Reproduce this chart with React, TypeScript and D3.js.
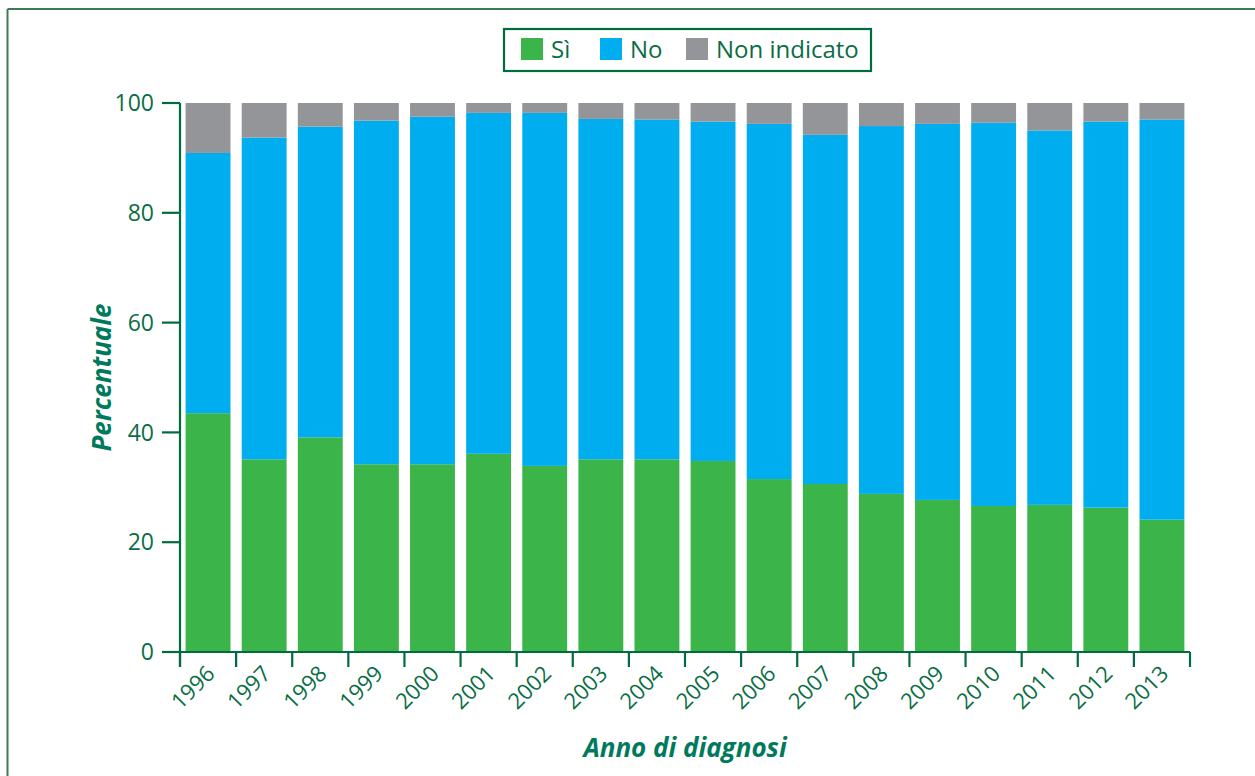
import React from "react";
import * as d3 from "d3";

const years = ["1996","1997","1998","1999","2000","2001","2002","2003","2004","2005","2006","2007","2008","2009","2010","2011","2012","2013"];
const si = [43.5, 35.1, 39.1, 34.2, 34.2, 36.1, 33.9, 35.1, 35.1, 34.8, 31.5, 30.6, 28.8, 27.7, 26.6, 26.8, 26.3, 24.1];
const no = [47.4, 58.6, 56.6, 62.6, 63.3, 62.1, 64.3, 62.0, 61.9, 61.8, 64.7, 63.6, 67.0, 68.5, 69.8, 68.2, 70.3, 72.9];
const nonIndicato = [9.1, 6.3, 4.3, 3.2, 2.5, 1.8, 1.8, 2.9, 3.0, 3.4, 3.8, 5.8, 4.2, 3.8, 3.6, 5.0, 3.4, 3.0];
const seriesKeys = ["Sì", "No", "Non indicato"];
const seriesColors = ["#3bb54a", "#00aeef", "#939598"];
const yTicks = [0, 20, 40, 60, 80, 100];

const W = 1255, H = 776;
const AXIS = "#006b3c";
const TEXT = "#0a6e44";
const TITLE = "#007a5c";
const FONT = "'Open Sans', 'Noto Sans', sans-serif";

export default function App() {
  const rows = years.map((y, i) => ({ year: y, "Sì": si[i], "No": no[i], "Non indicato": nonIndicato[i] }));
  const stacked = d3.stack<any>().keys(seriesKeys)(rows);

  const x = d3.scaleBand<string>().domain(years).range([180, 1190]).paddingInner(0.2).paddingOuter(0.1);
  const y = d3.scaleLinear().domain([0, 100]).range([652, 103]);
  const color = d3.scaleOrdinal<string, string>().domain(seriesKeys).range(seriesColors);

  const gap = (x.step() - x.bandwidth()) / 2;
  const boundaries = years.map((yr) => (x(yr) as number) - gap).concat([(x(years[years.length - 1]) as number) + x.bandwidth() + gap]);

  const legendItems = [
    { key: "Sì", sx: 521, tx: 551 },
    { key: "No", sx: 600, tx: 630 },
    { key: "Non indicato", sx: 686, tx: 716 },
  ];

  return (
    <svg width={W} height={H} style={{ position: "absolute", left: 0, top: 0, background: "#fff" }} fontFamily={FONT}>
      {/* frame */}
      <line x1={7.5} y1={9} x2={W} y2={9} stroke="#3f7a55" strokeWidth={2} />
      <line x1={7.5} y1={9} x2={7.5} y2={H} stroke="#3f7a55" strokeWidth={2} />

      {/* legend */}
      <rect x={504} y={29} width={367} height={42} fill="#fff" stroke={AXIS} strokeWidth={2.2} />
      {legendItems.map((it) => (
        <g key={it.key}>
          <rect x={it.sx} y={38} width={22} height={22} fill={color(it.key)} />
          <text x={it.tx} y={57.5} fontSize={24} fill={TEXT}>{it.key}</text>
        </g>
      ))}

      {/* bars */}
      {stacked.map((s) => (
        <g key={s.key} fill={color(s.key)}>
          {s.map((d: any) => (
            <rect
              key={d.data.year}
              x={x(d.data.year)}
              width={x.bandwidth()}
              y={y(d[1])}
              height={y(d[0]) - y(d[1])}
            />
          ))}
        </g>
      ))}

      {/* y axis */}
      <line x1={180} y1={y(100)} x2={180} y2={667} stroke={AXIS} strokeWidth={2.2} />
      {yTicks.map((t) => (
        <g key={t}>
          <line x1={162} x2={180} y1={y(t)} y2={y(t)} stroke={AXIS} strokeWidth={2.2} />
          <text x={154} y={y(t)} dy="0.36em" textAnchor="end" fontSize={23} fill={TEXT}>{t}</text>
        </g>
      ))}

      {/* x axis */}
      <line x1={162} y1={y(0)} x2={boundaries[boundaries.length - 1]} y2={y(0)} stroke={AXIS} strokeWidth={2.2} />
      {boundaries.map((bx, i) => (
        <line key={i} x1={bx} x2={bx} y1={y(0)} y2={667} stroke={AXIS} strokeWidth={2.2} />
      ))}
      {years.map((yr) => {
        const cx = (x(yr) as number) + x.bandwidth() / 2;
        return (
          <text key={yr} transform={`translate(${cx + 8},675) rotate(-45)`} textAnchor="end" fontSize={22} fill={TEXT}>
            {yr}
          </text>
        );
      })}

      {/* axis titles */}
      <text transform={`translate(111,${(y(0) + y(100)) / 2}) rotate(-90)`} textAnchor="middle" fontSize={26} fontWeight="bold" fontStyle="italic" fill={TITLE}>
        Percentuale
      </text>
      <text x={685} y={757} textAnchor="middle" fontSize={26} fontWeight="bold" fontStyle="italic" fill={TITLE}>
        Anno di diagnosi
      </text>
    </svg>
  );
}
